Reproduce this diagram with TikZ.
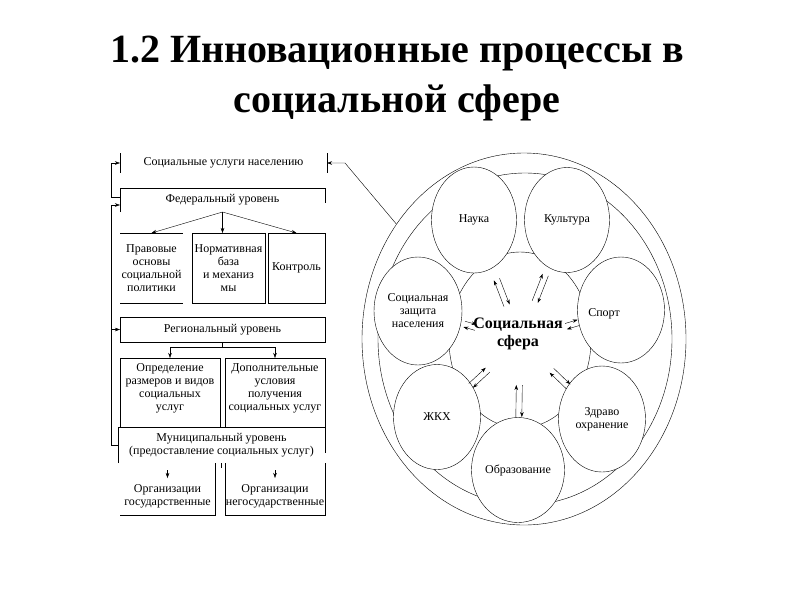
\documentclass[tikz,border=0pt]{standalone}
\usepackage{fontspec}
\setmainfont{Liberation Serif}
\usetikzlibrary{arrows.meta,shapes.geometric,calc}

\begin{document}
\begin{tikzpicture}[x=1pt,y=-1pt,>={Stealth[length=5pt,width=3.5pt]},
  font=\fontsize{12}{13}\selectfont,
  box/.style={inner sep=0pt,outer sep=0pt,align=center},
  sphere/.style={ellipse,draw,fill=white,inner sep=0pt,align=center}]
\useasboundingbox (0,0) rectangle (794,595);
\node[font=\fontsize{40}{50}\selectfont\bfseries,align=center] (title) at (397,79) {1.2 Инновационные процессы в\\социальной сфере};
% levels of social services
\node[box,minimum width=207,minimum height=20] (svc) at (223.5,163) {Социальные услуги населению};
\draw (svc.north west) -- (svc.south west) (svc.north east) -- (svc.south east);
\node[box,minimum width=205,minimum height=24] (fed) at (222.5,200) {Федеральный уровень};
\draw (fed.south west) -- (fed.north west) -- (fed.north east) -- ([yshift=9pt]fed.south east);
\node[box,minimum width=63,minimum height=70] (law) at (151.5,268) {Правовые\\основы\\социальной\\политики};
\draw (law.north west) -- (law.north east) (law.south west) -- (law.south east);
\node[box,draw,minimum width=73,minimum height=70] (norm) at (228.5,268) {Нормативная\\база\\и механиз\\мы};
\node[box,draw,minimum width=57,minimum height=70] (ctrl) at (296.5,268) {Контроль};
\draw[->] (fed.south) -- (law.north);
\draw[->] (fed.south) -- (fed.south |- norm.north);
\draw[->] (fed.south) -- (ctrl.north);
\node[box,draw,minimum width=205,minimum height=25] (reg) at (222.5,329.5) {Региональный уровень};
\node[box,minimum width=100,minimum height=60] (size) at (170,388) {Определение\\размеров и видов\\социальных\\услуг};
\draw ([yshift=-9pt]size.south west) -- (size.north west) -- (size.north east) -- ([yshift=-9pt]size.south east);
\node[box,minimum width=100,minimum height=60] (extra) at (275,388) {Дополнительные\\условия\\получения\\социальных услуг};
\draw ([yshift=-9pt]extra.south west) -- (extra.north west) -- (extra.north east) -- ([yshift=-9pt]extra.south east);
\draw (reg.south) -- ++(0,5) coordinate (regfork);
\draw[->] (regfork) -| (size.north);
\draw[->] (regfork) -| (extra.north);
\node[box,minimum width=207,minimum height=36] (mun) at (221.5,445) {Муниципальный уровень\\(предоставление социальных услуг)};
\draw (mun.south west) -- (mun.north west) -- (mun.north east) -- ([yshift=10pt]mun.south east);
\node[box,minimum width=95,minimum height=37] (gov) at (167.5,496.5) {Организации\\государственные};
\draw ([yshift=15pt]gov.north east) -- (gov.south east) -- (gov.south west);
\node[box,minimum width=100,minimum height=37] (ngo) at (275,496.5) {Организации\\негосударственные};
\draw ([yshift=15pt]ngo.north west) -- (ngo.south west) -- (ngo.south east) -- ([yshift=15pt]ngo.north east);
\draw (mun.south) -- ++(0,5);
\draw[->] ([yshift=8pt]gov.north) -- (gov.north);
\draw[->] ([yshift=8pt]ngo.north) -- (ngo.north);
% feedback on the left
\draw[->] ([yshift=3pt]fed.west) -- ++(-9,0) |- (svc.west);
\draw[->] (mun.west) -- ++(-7,0) coordinate (munback) |- ([yshift=-5pt]fed.west);
\draw[->] (munback |- reg.west) -- (reg.west);
% social sphere
\node[ellipse,draw,minimum width=324,minimum height=372,inner sep=0pt] (outer) at (524,339) {};
\node[ellipse,draw,minimum width=294,minimum height=332,inner sep=0pt] (ring) at (525,339) {};
\node[ellipse,draw,minimum width=142,minimum height=176,inner sep=0pt] (core) at (520,340) {};
\node[sphere,minimum width=85,minimum height=106] (nauka) at (474,220) {Наука};
\node[sphere,minimum width=85,minimum height=105] (kult) at (567,220) {Культура};
\node[sphere,minimum width=88,minimum height=108] (zash) at (418,311) {Социальная\\защита\\населения};
\node[sphere,minimum width=87,minimum height=106] (sport) at (621,310) {};
\node (sporttext) at (604,314) {Спорт};
\node[sphere,minimum width=87,minimum height=105] (zhkh) at (437,417) {ЖКХ};
\node[sphere,minimum width=87,minimum height=106] (zdrav) at (602,419) {Здраво\\охранение};
\node[sphere,minimum width=87,minimum height=105] (obraz) at (518,470) {Образование};
\node[font=\fontsize{16}{18}\selectfont\bfseries,align=center] (coretext) at (518,334) {Социальная\\сфера};
\foreach \sat/\s/\e in {nauka/37/65,kult/41/70,zash/46/58,sport/48/61,zhkh/44/67,zdrav/44/67,obraz/45/77} {
  \draw[->] ($($(core)!\s pt!(\sat)$)!3pt!90:(\sat)$) -- ($($(core)!\e pt!(\sat)$)!3pt!90:(\sat)$);
  \draw[->] ($($(core)!\e pt!(\sat)$)!3pt!-90:(\sat)$) -- ($($(core)!\s pt!(\sat)$)!3pt!-90:(\sat)$);
}
\draw[->] (outer.138) -- ([xshift=18pt]svc.east) -- (svc.east);
\end{tikzpicture}
\end{document}
